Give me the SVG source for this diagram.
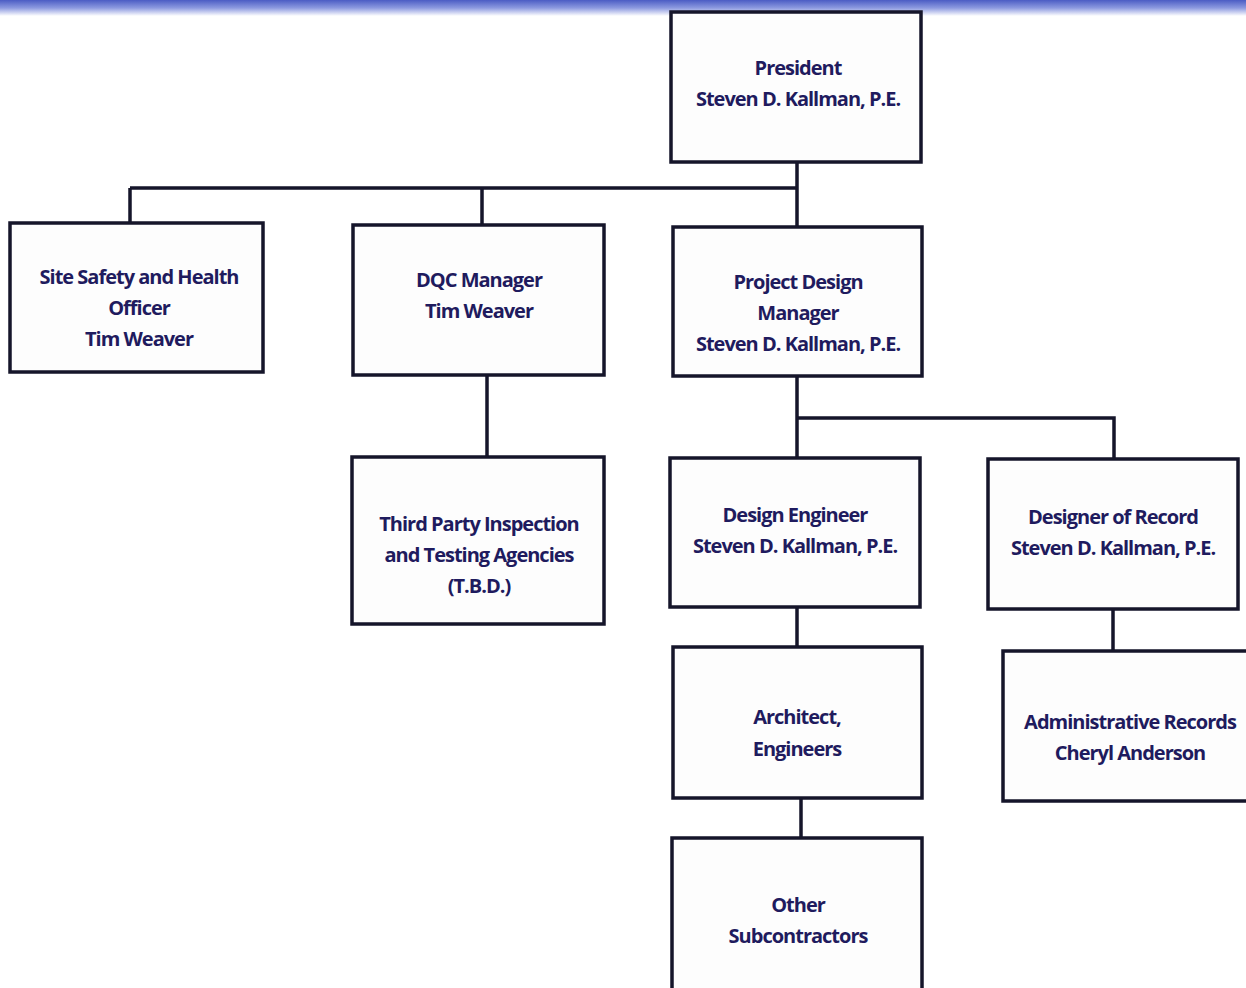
<svg xmlns="http://www.w3.org/2000/svg" width="1246" height="988" viewBox="0 0 1246 988">
<defs>
<linearGradient id="band" x1="0" y1="0" x2="0" y2="1">
<stop offset="0" stop-color="#4b5cc4"/>
<stop offset="0.5" stop-color="#8d9ae0"/>
<stop offset="1" stop-color="#ffffff"/>
</linearGradient>
<style>
.box{fill:#fdfdfd;stroke:#15152a;stroke-width:3.5}
.ln{fill:none;stroke:#15152a;stroke-width:3.5}
text{font-family:"Open Sans","Liberation Sans",sans-serif;font-weight:bold;font-size:20px;fill:#1f1b5e;text-anchor:middle;letter-spacing:-1px}
</style>
</defs>
<rect x="0" y="0" width="1246" height="988" fill="#ffffff"/>
<rect x="0" y="0" width="1246" height="16" fill="url(#band)"/>
<g id="connectors">
<path class="ln" d="M797 162V188M130 188H797M130 188V223M482 188V225M797 188V227"/>
<path class="ln" d="M487 375V457"/>
<path class="ln" d="M797 376V458M797 418H1114V459"/>
<path class="ln" d="M797 607V647"/>
<path class="ln" d="M801 798V838"/>
<path class="ln" d="M1113 609V651"/>
</g>
<g id="president">
<rect class="box" x="671" y="12" width="250" height="150"/>
<text x="798" y="75">President</text>
<text x="798" y="106">Steven D. Kallman, P.E.</text>
</g>
<g id="site-safety">
<rect class="box" x="10" y="223" width="253" height="149"/>
<text x="139" y="284">Site Safety and Health</text>
<text x="139" y="315">Officer</text>
<text x="139" y="346">Tim Weaver</text>
</g>
<g id="dqc">
<rect class="box" x="353" y="225" width="251" height="150"/>
<text x="479" y="287">DQC Manager</text>
<text x="479" y="318">Tim Weaver</text>
</g>
<g id="project-design-manager">
<rect class="box" x="673" y="227" width="249" height="149"/>
<text x="798" y="289">Project Design</text>
<text x="798" y="320">Manager</text>
<text x="798" y="351">Steven D. Kallman, P.E.</text>
</g>
<g id="third-party">
<rect class="box" x="352" y="457" width="252" height="167"/>
<text x="479" y="531">Third Party Inspection</text>
<text x="479" y="562">and Testing Agencies</text>
<text x="479" y="593">(T.B.D.)</text>
</g>
<g id="design-engineer">
<rect class="box" x="670" y="458" width="250" height="149"/>
<text x="795" y="522">Design Engineer</text>
<text x="795" y="553">Steven D. Kallman, P.E.</text>
</g>
<g id="designer-of-record">
<rect class="box" x="988" y="459" width="250" height="150"/>
<text x="1113" y="524">Designer of Record</text>
<text x="1113" y="555">Steven D. Kallman, P.E.</text>
</g>
<g id="architect">
<rect class="box" x="673" y="647" width="249" height="151"/>
<text x="797" y="724">Architect,</text>
<text x="797" y="756">Engineers</text>
</g>
<g id="admin-records">
<rect class="box" x="1003" y="651" width="250" height="150"/>
<text x="1130" y="729">Administrative Records</text>
<text x="1130" y="760">Cheryl Anderson</text>
</g>
<g id="other-subcontractors">
<rect class="box" x="672" y="838" width="250" height="160"/>
<text x="798" y="912">Other</text>
<text x="798" y="943">Subcontractors</text>
</g>
</svg>
